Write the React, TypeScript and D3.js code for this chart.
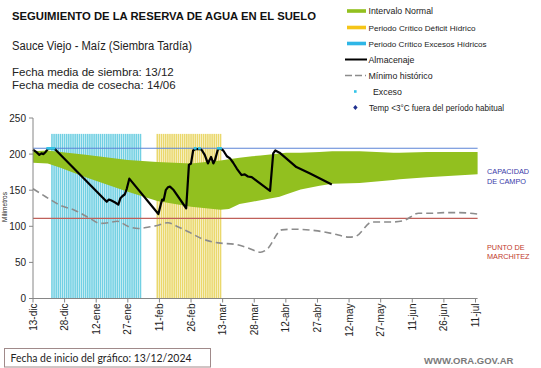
import React from 'react';
import * as d3 from 'd3';

// chart values
const tickLabels = ['13-dic', '28-dic', '12-ene', '27-ene', '11-feb', '26-feb', '13-mar', '28-mar', '12-abr', '27-abr', '12-may', '27-may', '11-jun', '26-jun', '11-jul'];
const tickDays = tickLabels.map((_, i) => i * 15);
const yTicks = [0, 50, 100, 150, 200, 250];

const capacidadCampo = 208;
const puntoMarchitez = 111;

const excesosPeriodo = [9, 51];
const deficitPeriodo = [59, 89];
const periodoTope = 228;

const normalDays = [0, 7, 13, 25, 45, 59, 75, 89, 93, 98, 104, 108, 117, 120, 127, 136, 142, 155, 171, 174, 187, 193, 211];
const normalUpper = [204, 205, 203, 199, 192, 189, 187, 191, 193, 195, 197, 198, 201, 202, 202, 203, 204, 204, 202, 202, 203, 203, 203];
const normalLower = [188, 187, 181, 168, 148, 135, 127, 123, 124, 131, 134, 136, 141, 144, 151, 156, 159, 160, 164, 165, 168, 169, 172];

const almacenaje: [number, number][] = [
  [0, 206], [1.5, 203], [3, 199], [4, 201], [5, 200], [6, 203], [7, 207], [8, 208], [10, 208],
  [35, 134], [36, 137], [37, 136], [39, 133], [40.5, 130], [41.5, 139], [42.5, 142], [43.5, 144], [44.5, 152], [45.7, 166],
  [59.5, 117], [60.7, 131], [61.3, 137], [62, 136], [63, 150], [64, 154], [65, 155], [66.5, 151],
  [72.7, 125], [74, 185], [75, 187], [76, 205], [77, 207], [79, 207], [80, 206], [81.5, 199], [83, 187],
  [84.5, 196], [85.6, 187], [86.4, 192], [87.7, 206], [88.8, 208], [90.3, 205], [92, 197], [93.5, 194],
  [95, 188], [96.7, 180], [99, 171], [100.5, 172], [102, 169], [103.8, 168],
  [112.5, 149], [114, 201], [115, 205], [117, 202], [125, 182], [131.5, 173], [141.8, 158],
];

const minimoHistorico: [number, number][] = [
  [0, 152], [6, 141], [13, 129], [20, 122], [27, 111], [32, 104], [36, 105], [40, 107], [45, 100],
  [50, 97], [55, 99], [59, 101], [64, 105], [69, 99], [74, 92], [80, 83], [88, 77], [96, 75],
  [102, 70], [108, 64], [111, 68], [118, 95], [124, 96], [134, 94], [142, 90], [150, 85], [153, 86],
  [161, 106], [170, 106], [176, 108], [183, 118], [189, 118], [195, 119], [202, 119], [211, 117],
];

const excesoDays = [7, 8, 9, 10, 77, 79, 88, 89];

const font = "Arial, 'Liberation Sans', sans-serif";

export default function App() {
  const x = d3.scaleLinear().domain([0, 211]).range([33, 477.6]);
  const y = d3.scaleLinear().domain([0, 250]).range([298.5, 118]);
  const step = x(1) - x(0);
  const bw = step * 0.75;

  const band = d3.area<number>()
    .x((d, i) => x(normalDays[i]))
    .y0((d, i) => y(normalLower[i]))
    .y1((d, i) => y(normalUpper[i]));

  const line = d3.line<[number, number]>().x(d => x(d[0])).y(d => y(d[1]));
  const smooth = d3.line<[number, number]>().x(d => x(d[0])).y(d => y(d[1])).curve(d3.curveMonotoneX);

  const periodBars = (range: number[], color: string, key: string) =>
    d3.range(range[0], range[1] + 1).map(d => (
      <rect key={key + d} x={x(d) - bw / 2} y={y(periodoTope)} width={bw}
        height={y(0) - y(periodoTope)} fill={color} />
    ));

  const legendY = [11, 27.5, 43.5, 59.5, 75.5, 91.5, 107.5];

  return (
    <svg width={541} height={368} style={{ position: 'absolute', left: 0, top: 0, background: '#fff' }}
      fontFamily={font}>
      {/* header */}
      <text x={12} y={20} fontSize={11} fontWeight="bold" fill="#111" textLength={304}
        lengthAdjust="spacingAndGlyphs">SEGUIMIENTO DE LA RESERVA DE AGUA EN EL SUELO</text>
      <text x={12} y={50} fontSize={12} fill="#222" textLength={180}
        lengthAdjust="spacingAndGlyphs">Sauce Viejo - Maíz  (Siembra Tardía)</text>
      <text x={12} y={76} fontSize={11.5} fill="#222">Fecha media de siembra: 13/12</text>
      <text x={12} y={89} fontSize={11.5} fill="#222">Fecha media de cosecha: 14/06</text>

      {/* legend */}
      <g fontSize={8.8} fill="#222">
        <rect x={347} y={legendY[0] - 1.8} width={19} height={3.6} fill="#92c01f" />
        <text x={368.5} y={legendY[0] + 3}>Intervalo Normal</text>
        <rect x={347} y={legendY[1] - 1.8} width={19} height={3.6} fill="#f5c518" />
        <text x={368.5} y={legendY[1] + 3} fontSize={7.8} textLength={107}
          lengthAdjust="spacingAndGlyphs">Periodo Crítico Déficit Hídrico</text>
        <rect x={347} y={legendY[2] - 1.8} width={19} height={3.6} fill="#2fb6e6" />
        <text x={368.5} y={legendY[2] + 3} fontSize={7.8} textLength={118}
          lengthAdjust="spacingAndGlyphs">Periodo Crítico Excesos Hídricos</text>
        <line x1={345} x2={367} y1={legendY[3]} y2={legendY[3]} stroke="#000" strokeWidth={2} />
        <text x={368.5} y={legendY[3] + 3}>Almacenaje</text>
        <line x1={345} x2={366} y1={legendY[4]} y2={legendY[4]} stroke="#8c8c8c" strokeWidth={1.5} strokeDasharray="7,3" />
        <text x={368.5} y={legendY[4] + 3}>Mínimo histórico</text>
        <rect x={354} y={legendY[5] - 1.3} width={2.6} height={2.6} fill="#33c4e8" />
        <text x={373} y={legendY[5] + 3}>Exceso</text>
        <path d={`M355.4,${legendY[6] - 2.4}l2.2,2.4l-2.2,2.4l-2.2,-2.4z`} fill="#1f2f8f" />
        <text x={369} y={legendY[6] + 3} fontSize={8.5} textLength={135}
          lengthAdjust="spacingAndGlyphs">Temp &lt;3°C fuera del período habitual</text>
      </g>

      {/* critical periods */}
      {periodBars(excesosPeriodo, '#72d0e3', 'e')}
      {periodBars(deficitPeriodo, '#ead86c', 'd')}

      {/* normal interval */}
      <path d={band(normalDays) || ''} fill="#92c01f" />

      {/* reference lines */}
      <line x1={x(0)} x2={x(211)} y1={y(capacidadCampo)} y2={y(capacidadCampo)} stroke="#5b84d6" strokeWidth={1.1} />
      <line x1={x(0)} x2={x(211)} y1={y(puntoMarchitez)} y2={y(puntoMarchitez)} stroke="#c0605a" strokeWidth={1.3} />

      <path d={smooth(minimoHistorico) || ''} fill="none" stroke="#8c8c8c" strokeWidth={1.6} strokeDasharray="7,4" />
      <path d={line(almacenaje) || ''} fill="none" stroke="#000" strokeWidth={2.2} strokeLinejoin="round" />

      {excesoDays.map(d => (
        <rect key={'x' + d} x={x(d) - 1.4} y={y(capacidadCampo) - 1.3} width={2.8} height={2.6} fill="#33c4e8" />
      ))}

      {/* axes */}
      <line x1={33} x2={33} y1={y(250)} y2={y(0)} stroke="#868686" strokeWidth={1} />
      <line x1={33} x2={x(211)} y1={y(0)} y2={y(0)} stroke="#868686" strokeWidth={1} />
      {yTicks.map(t => (
        <g key={'y' + t}>
          <line x1={29} x2={33} y1={y(t)} y2={y(t)} stroke="#868686" />
          <text x={26} y={y(t) + 3.5} fontSize={10} textAnchor="end" fill="#222">{t}</text>
        </g>
      ))}
      {tickDays.map((d, i) => (
        <g key={'t' + d}>
          <line x1={x(d)} x2={x(d)} y1={y(0)} y2={y(0) + 4} stroke="#868686" />
          <text transform={`translate(${x(d) + 3.5},${y(0) + 5}) rotate(-90)`} fontSize={10}
            textAnchor="end" fill="#222">{tickLabels[i]}</text>
        </g>
      ))}
      <text transform="translate(7,207) rotate(-90)" fontSize={6.5} textAnchor="middle" fill="#222">Milímetros</text>

      {/* right labels */}
      <g fontSize={7.3} fill="#3a3aa8">
        <text x={487} y={174}>CAPACIDAD</text>
        <text x={487} y={183.5}>DE  CAMPO</text>
      </g>
      <g fontSize={7.3} fill="#c0392b">
        <text x={487} y={249.5}>PUNTO  DE</text>
        <text x={487} y={259}>MARCHITEZ</text>
      </g>

      {/* footer */}
      <rect x={4.5} y={348.5} width={206} height={18.5} fill="none" stroke="#a08a8a" />
      <text x={10.5} y={361.5} fontSize={10.5} fontFamily="Lato, sans-serif" fill="#222"
        textLength={181} lengthAdjust="spacingAndGlyphs">Fecha de inicio del gráfico:  13/12/2024</text>
      <text x={424} y={364} fontSize={9.5} fill="#7a7a7a" fontWeight="bold">WWW.ORA.GOV.AR</text>
    </svg>
  );
}
